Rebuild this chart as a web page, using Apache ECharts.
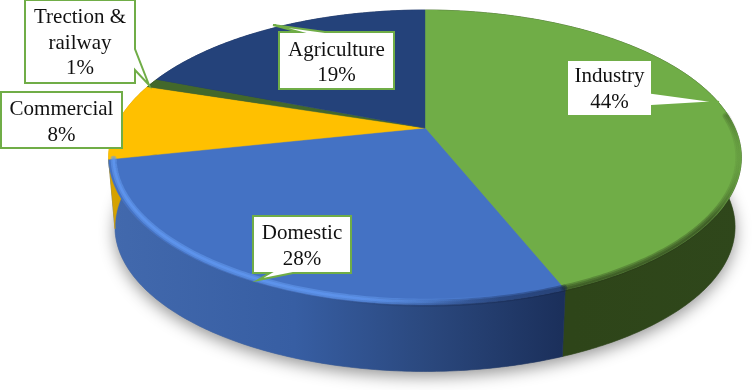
<!DOCTYPE html>
<html>
<head>
<meta charset="utf-8">
<style>html,body{margin:0;padding:0;background:#fff}#c{width:754px;height:390px}</style>
<script src="https://cdn.jsdelivr.net/npm/echarts@6/dist/echarts.min.js"></script>
</head>
<body>
<div id="c"></div>
<script>
// Data (labels show rounded percent)
var categories = ['Industry', 'Domestic', 'Commercial', 'Trection &\nrailway', 'Agriculture'];
var shares = [44, 27.6, 8.4, 1, 19];
var topColors = ['#70ad47', '#4472c4', '#ffc000', '#43682b', '#24427a'];

// Projection of the tilted disc
var CX = 425, CY = 128, RA = 310, RB = 141.6, PERSP = 0.2, DEPTH = 70, BOTTOM_SCALE = 0.98;
function project(deg, r, dy, s) {
  var t = deg * Math.PI / 180, x = Math.sin(t) * r, y = -Math.cos(t) * r, w = 1 - PERSP * y;
  return [CX + RA * s * x / w, CY + dy + RB * s * y / w];
}
function arc(a, b, r, dy, s) {
  var pts = [], n = Math.max(2, Math.ceil(Math.abs(b - a) * 1.5));
  for (var i = 0; i <= n; i++) pts.push(project(a + (b - a) * i / n, r, dy, s));
  return pts;
}
var total = shares.reduce(function (p, c) { return p + c; }, 0);
var acc = 0;
var rows = shares.map(function (v, i) {
  var start = acc / total * 360; acc += v;
  return [i, v, start, acc / total * 360];
});
function LG(x1, x2, stops) { return new echarts.graphic.LinearGradient(x1, 0, x2, 0, stops, true); }

var wallFills = [
  LG(571, 745, [{offset:0,color:'#2e4519'},{offset:1,color:'#2f471b'}]),
  LG(110, 571, [{offset:0,color:'#4269ad'},{offset:.4,color:'#375ea3'},{offset:.7,color:'#2a477c'},{offset:1,color:'#1a2e59'}]),
  LG(105, 150, [{offset:0,color:'#d9a400'},{offset:1,color:'#c89a00'}]),
  '#2f471b', '#1a2e59'
];

// Callout layout, one per category
var callouts = [
  {box:[567,60,652,116], ptr:[[652,93],[719,102],[652,106]], border:'#70ad47', textY:[76,102]},
  {box:[253,216,351,273], ptr:[[270,273],[258,280],[293,273]], border:'#70ad47', textY:[233,259]},
  {box:[1,92,122,148], ptr:null, border:'#70ad47', textY:[109,135]},
  {box:[25,0,135,83], ptr:[[135,49],[149,85],[135,70]], border:'#70ad47', textY:[17,43,68]},
  {box:[279,32,394,89], ptr:[[299,32],[273,25],[325,32]], border:'#70ad47', textY:[50,75]}
];

function renderBase(params, api) {
  return {
    type: 'polygon', silent: true,
    shape: {points: arc(0, 360, 1, DEPTH, BOTTOM_SCALE).concat(arc(0, 1, 1, DEPTH, BOTTOM_SCALE))},
    style: {fill: '#8a8a8a', shadowBlur: 16, shadowColor: 'rgba(0,0,0,0.42)', shadowOffsetY: 5, shadowOffsetX: 0}
  };
}
function renderWall(params, api) {
  var i = api.value(0), a = api.value(2), b = api.value(3);
  var top = arc(a, b, 1, 0, 1), bot = arc(a, b, 1, DEPTH, BOTTOM_SCALE).reverse();
  return {type: 'polygon', silent: true, shape: {points: top.concat(bot)},
    style: {fill: wallFills[i], stroke: wallFills[i], lineWidth: 0.6}};
}
function renderTop(params, api) {
  var i = api.value(0), a = api.value(2), b = api.value(3);
  return {type: 'polygon', silent: true,
    shape: {points: [[CX, CY]].concat(arc(a, b, 1, 0, 1))},
    style: {fill: topColors[i], stroke: topColors[i], lineWidth: 0.4}};
}
function renderRim(params, api) {
  var i = api.value(0), kids = [];
  function line(a, b, r, width, stroke) {
    kids.push({type: 'polyline', silent: true, shape: {points: arc(a, b, r, 0, 1)},
      style: {fill: null, stroke: stroke, lineWidth: width, lineCap: 'round'}});
  }
  if (i === 0) {
    var g1 = new echarts.graphic.LinearGradient(571, 0, 745, 0, [
      {offset:0,color:'rgba(35,50,20,0.28)'},{offset:.8,color:'rgba(35,50,20,0.28)'},{offset:1,color:'rgba(35,50,20,0)'}], true);
    [[0.992,7],[0.992,4],[0.995,2]].forEach(function (d) { line(85, api.value(3), d[0], d[1], g1); });
  }
  if (i === 1) {
    var dark = LG(330, 571, [{offset:0,color:'rgba(20,35,70,0)'},{offset:.5,color:'rgba(20,35,70,0.25)'},{offset:1,color:'rgba(20,35,70,0.38)'}]);
    [[0.992,7],[0.992,4]].forEach(function (d) { line(api.value(2), api.value(3), d[0], d[1], dark); });
    var hi = LG(110, 500, [{offset:0,color:'rgba(100,155,240,0.55)'},{offset:.65,color:'rgba(100,155,240,0.55)'},{offset:1,color:'rgba(100,155,240,0)'}]);
    line(api.value(2), api.value(3), 0.985, 6, hi);
    var hi2 = LG(110, 470, [{offset:0,color:'rgba(95,150,240,0.8)'},{offset:.7,color:'rgba(95,150,240,0.7)'},{offset:1,color:'rgba(95,150,240,0)'}]);
    line(api.value(2), api.value(3), 0.985, 2.5, hi2);
  }
  return {type: 'group', silent: true, children: kids};
}
function renderCallout(params, api) {
  var i = api.value(0), c = callouts[i], b = c.box;
  var pct = Math.round(api.value(1)) + '%';
  var lines = categories[i].split('\n').concat([pct]);
  var p = [[b[0], b[1]], [b[2], b[1]], [b[2], b[3]], [b[0], b[3]]];
  var pts = p;
  if (c.ptr) {
    // splice the pointer into the side it leaves from
    if (c.ptr[0][0] === b[2]) pts = [p[0], p[1]].concat(c.ptr, [p[2], p[3]]);
    else if (c.ptr[0][1] === b[3]) pts = [p[0], p[1], p[2], p[3]].slice(0, 3).concat(c.ptr.slice().reverse(), [p[3]]);
    else pts = [p[0]].concat(c.ptr, [p[1], p[2], p[3]]);
  }
  var kids = [{type: 'polygon', silent: true, shape: {points: pts},
    style: {fill: '#fff', stroke: c.border, lineWidth: 2, lineJoin: 'miter'}}];
  lines.forEach(function (t, k) {
    kids.push({type: 'text', silent: true, style: {
      text: t, x: (b[0] + b[2]) / 2, y: c.textY[k], align: 'center', verticalAlign: 'middle',
      fontFamily: '"Liberation Serif"', fontSize: 21, fill: '#111'}});
  });
  return {type: 'group', silent: true, children: kids};
}

var chart = echarts.init(document.getElementById('c'), null, {renderer: 'canvas'});
function series(fn, z) {
  return {type: 'custom', coordinateSystem: 'none', renderItem: fn, data: rows, z: z, clip: false, animation: false, silent: true};
}
chart.setOption({
  backgroundColor: '#fff',
  animation: false,
  tooltip: {show: false},
  series: [
    {type: 'custom', coordinateSystem: 'none', renderItem: renderBase, data: [[0]], z: 1, animation: false, silent: true},
    series(renderWall, 2),
    series(renderTop, 3),
    series(renderRim, 4),
    series(renderCallout, 5)
  ]
});
</script>
</body>
</html>
